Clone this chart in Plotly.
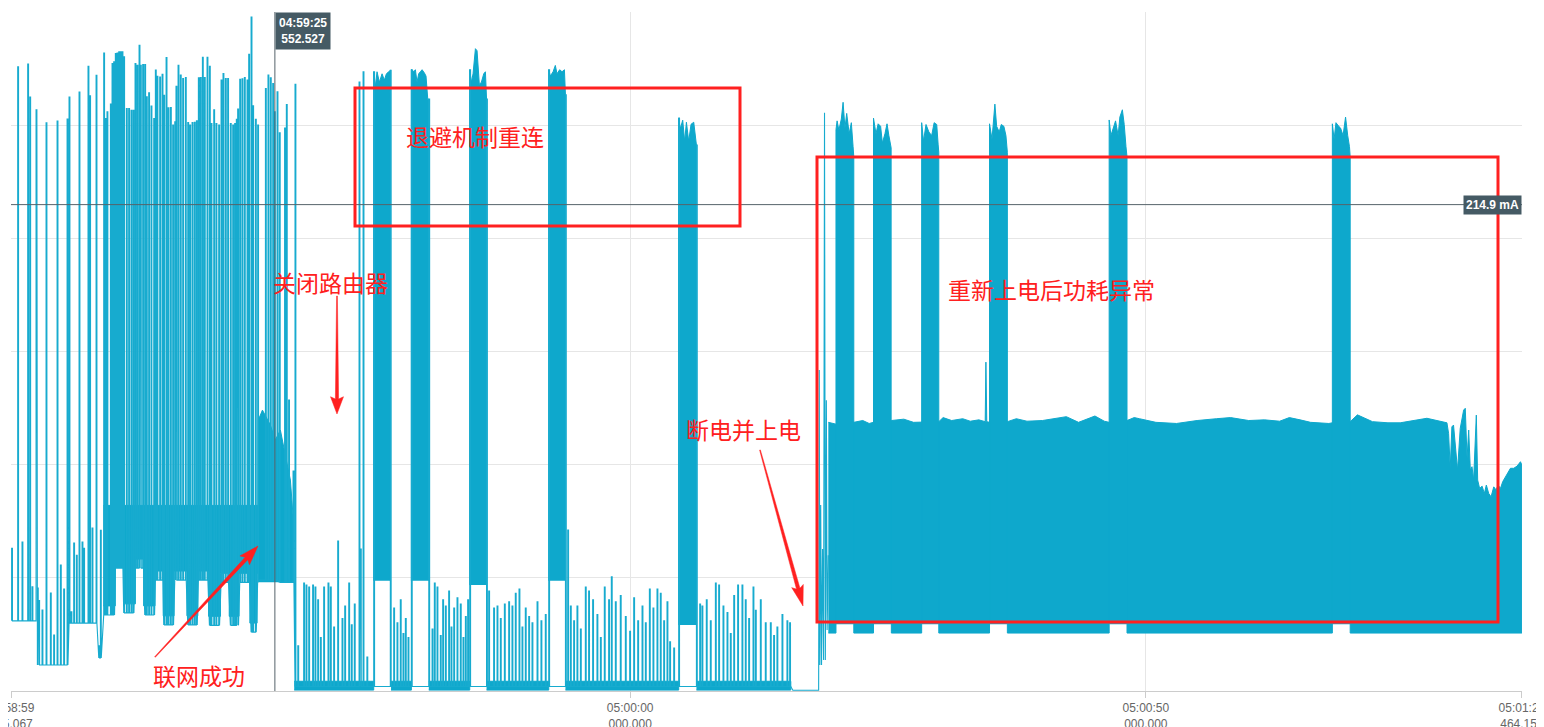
import plotly.graph_objects as go
from datetime import datetime, timedelta

# ---------------- data (time = seconds after 04:58:59.975067, current in mA) ----------------
DAY = "2024-01-01 "
START = "04:58:59.975067"
END = "05:01:26.464156"
tick_times = ["04:58:59.975067", "05:00:00.000000", "05:00:50.000000", "05:01:26.464156"]
tick_text = ["04:58:59<br>975.067", "05:00:00<br>000.000", "05:00:50<br>000.000", "05:01:26<br>464.156"]
cursor_time = "04:59:25.552527"
cursor_ma = 214.9

# individual spikes: time, peak, baseline
spike_t = [0.05, 0.64, 1.06, 1.61, 1.81, 2.03, 2.42, 2.55, 2.68, 3.00, 3.39, 3.81, 4.13, 4.46, 4.78, 5.10, 5.43,
           5.62, 5.81, 6.07, 6.33, 6.59, 6.88, 7.04, 7.46, 7.62, 7.85, 8.24, 8.50, 8.66,
           8.98, 9.14, 9.30, 9.63, 9.79, 9.95, 10.11, 10.27, 10.44, 10.60, 10.76, 10.92, 11.18, 11.40, 11.63,
           11.83, 12.02, 12.21, 12.41, 12.54, 12.76, 12.96, 13.12, 13.34, 13.57, 13.83, 13.99, 14.15, 14.41,
           14.64, 14.80, 15.03, 15.22, 15.45, 15.67, 15.87, 15.99, 16.19, 16.41, 16.64, 16.90, 17.13, 17.32,
           17.55, 17.77, 17.97, 18.16, 18.35, 18.55, 18.74, 19.00, 19.23, 19.39, 19.65, 19.87, 20.13, 20.36,
           20.55, 20.78, 21.00, 21.26, 21.49, 21.68, 21.84, 21.97, 22.17, 22.39, 22.62, 22.88, 23.04, 23.27,
           23.43, 23.69, 23.91,
           24.66, 24.91, 25.14, 25.37, 25.53, 25.79, 26.01, 26.52, 26.69, 26.91, 27.34, 27.53,
           27.80, 28.37, 28.60, 28.86, 29.24, 29.47, 29.73, 29.99, 30.31, 30.73, 30.96, 31.28, 31.67, 32.09,
           32.35, 32.74, 32.99, 33.28, 33.74, 33.87, 34.13, 34.50, 35.16, 36.77,
           37.10, 37.42, 37.74, 38.00, 38.23, 38.49, 38.81, 40.50,
           40.82, 41.04, 41.30, 41.62, 41.85, 42.11, 42.43, 42.66, 42.92, 43.24, 43.56, 43.82, 44.05, 44.27,
           44.47, 46.10,
           46.31, 46.79, 47.12, 47.44, 47.83, 48.25, 48.57, 48.89, 49.25, 49.54, 49.86, 50.19, 50.51, 51.00,
           51.38, 51.80, 52.13, 53.75,
           53.97, 54.23, 54.55, 54.87, 55.20, 55.68, 56.00, 56.39, 56.81, 57.14, 57.52, 57.94, 58.20, 58.59,
           59.07, 59.56, 59.98, 60.37, 60.76, 61.18, 61.50, 61.89, 62.24, 62.63, 62.95, 63.28, 63.60, 63.86,
           64.25, 64.73, 66.45,
           66.77, 66.99, 67.41, 67.80, 68.29, 68.61, 69.03, 69.42, 69.74, 70.07, 70.45, 70.87, 71.19, 71.52,
           71.94, 72.17, 72.65, 73.13, 73.62, 73.94, 74.26, 74.75, 75.23, 75.49]
spike_top = [63, 275.8, 65.8, 277.0, 262.4, 46.0, 256.8, 45.5, 40.0, 35.8, 251.0, 43.3, 24.7, 251.8, 55.7, 45.0, 252.7,
             262.4, 35.0, 65.4, 60.0, 264.6, 65.8, 63.0, 276.0, 263.0, 72.0, 272.0, 20.0, 71.0,
             281.9, 252.9, 255.9, 259.3, 277.2, 278.0, 281.6, 281.9, 282.4, 282.4, 282.4, 280.2, 257.3, 257.3, 256.6,
             256.6, 277.2, 276.5, 285.3, 276.5, 276.8, 276.8, 262.5, 264.3, 258.4, 252.9, 274.3, 271.6, 271.3,
             272.5, 263.2, 279.9, 257.7, 257.8, 250.0, 251.5, 267.2, 276.5, 272.1, 270.6, 271.0, 251.2, 250.0,
             251.2, 251.3, 251.9, 270.9, 271.0, 280.0, 271.0, 280.0, 276.0, 250.7, 256.8, 250.7, 250.0, 269.9,
             272.8, 270.6, 270.6, 250.7, 250.0, 250.7, 252.6, 257.1, 270.3, 270.5, 271.0, 269.9, 281.3, 297.8,
             258.6, 252.6, 250.0,
             266.2, 272.1, 270.9, 268.4, 255.9, 264.7, 246.6, 248.7, 259.1, 128.5, 97.2, 268.1,
             20.0, 47.7, 46.8, 45.9, 46.8, 45.9, 40.3, 23.6, 45.9, 47.7, 45.9, 28.3, 66.3, 32.0,
             37.5, 47.7, 29.2, 38.4, 269.0, 62.7, 273.6, 15.0, 273.6, 274.2,
             36.7, 30.1, 40.3, 25.4, 32.0, 23.6, 274.5, 261.5,
             27.4, 47.7, 45.9, 24.5, 40.3, 37.5, 44.2, 28.3, 36.7, 41.2, 38.4, 23.6, 32.9, 40.3,
             274.5, 261.5,
             44.2, 36.7, 37.5, 32.0, 38.4, 39.4, 37.5, 43.2, 45.0, 28.3, 36.7, 32.9, 30.1, 39.4,
             31.0, 33.8, 274.5, 263.4,
             71.1, 37.5, 31.0, 37.5, 27.4, 45.9, 44.2, 40.3, 33.8, 23.6, 45.9, 40.3, 50.5, 39.4,
             42.2, 32.9, 26.4, 41.2, 31.0, 37.5, 30.1, 45.0, 36.7, 45.0, 43.2, 31.0, 39.4, 21.7,
             19.0, 253.1, 241.2,
             38.4, 37.5, 40.3, 31.0, 47.7, 46.8, 37.5, 34.7, 25.4, 42.2, 46.8, 46.8, 40.3, 32.0,
             45.9, 35.7, 40.3, 30.1, 30.1, 24.5, 28.3, 33.8, 31.0, 30.1]
spike_base = [31, 31, 31, 31, 31, 31, 31, 11.5, 11.5, 11.5, 11.5, 11.5, 11.5, 11.5, 11.5, 11.5, 11.5,
              30, 30, 30, 30, 30, 30, 30, 30, 30, 30, 30, 14.6, 14.6,
              33.6, 33.6, 33.6, 33.6, 33.6, 33.6, 54.3, 54.3, 54.3, 54.3, 54.3, 34.5, 34.5, 34.5, 34.5,
              34.5, 54.3, 54.3, 54.3, 54.3, 54.3, 33.6, 33.6, 33.6, 33.6, 33.6, 49, 49, 49,
              49, 29.2, 29.2, 29.2, 29.2, 29.2, 49, 49, 49, 49, 49, 49, 29.2, 29.2,
              29.2, 29.2, 29.2, 49, 49, 49, 49, 49, 29, 29, 29, 29, 29, 48,
              48, 48, 48, 29, 29, 29, 29, 29, 48, 48, 48, 48, 48, 26,
              26, 26, 49,
              49, 49, 49, 49, 49, 49, 48, 48, 48, 48, 48, 2,
              2, 2, 2, 2, 2, 2, 2, 2, 2, 2, 2, 2, 2, 2,
              2, 2, 2, 2, 2, 2, 2, 2, 2, 2,
              2, 2, 2, 2, 2, 2, 2, 2,
              2, 2, 2, 2, 2, 2, 2, 2, 2, 2, 2, 2, 2, 2,
              2, 2,
              2, 2, 2, 2, 2, 2, 2, 2, 2, 2, 2, 2, 2, 2,
              2, 2, 2, 2,
              2, 2, 2, 2, 2, 2, 2, 2, 2, 2, 2, 2, 2, 2,
              2, 2, 2, 2, 2, 2, 2, 2, 2, 2, 2, 2, 2, 2,
              2, 2, 2,
              2, 2, 2, 2, 2, 2, 2, 2, 2, 2, 2, 2, 2, 2,
              2, 2, 2, 2, 2, 2, 2, 2, 2, 2]

# power cut and re-power
boot_t = [75.60, 75.80, 78.30, 78.36, 78.42, 78.50, 78.58, 78.68, 78.78, 78.87, 78.95, 79.05, 79.12, 79.24]
boot_v = [2.0, 0.3, 0.3, 141.8, 11.5, 82.2, 11.5, 62.7, 13.7, 255.5, 13.7, 128.5, 27.0, 60.0]

# dense connected phase groups (start, end, lower level)
grp_start = [8.95, 10.10, 10.90, 12.05, 12.85, 13.95, 14.75, 15.80, 17.05, 18.10, 19.15, 20.30, 21.15, 22.10, 23.15, 23.85]
grp_end = [10.10, 10.90, 12.05, 12.85, 13.95, 14.75, 15.80, 17.05, 18.10, 19.15, 20.30, 21.15, 22.10, 23.15, 23.85, 24.10]
grp_base = [33.6, 54.3, 34.5, 54.3, 33.6, 49.0, 29.2, 49.0, 29.2, 49.0, 29.0, 48.0, 29.0, 48.0, 26.0, 48.0]
grp_top = 82.0
tail_t = [23.97, 24.37, 24.76, 25.14, 25.62, 26.11, 26.59, 27.08, 27.37]
tail_v = [119.7, 124.1, 120.6, 117.5, 110.9, 115.3, 104.2, 93.2, 75.5]
tail_base = 48.0

# idle baseline noise after router off
noise_start = [27.45, 36.84, 40.50, 46.10, 53.75, 66.45]
noise_end = [35.16, 38.81, 44.47, 52.13, 64.73, 75.60]
noise_low, noise_high = 0.4, 4.3

# back-off reconnect bursts
d1_t = [35.16, 35.32, 35.48, 35.71, 35.97, 36.19, 36.39, 36.61, 36.77]
d1_v = [273.6, 267.1, 273.6, 269.0, 272.7, 269.9, 272.7, 273.6, 274.2]
d2_t = [38.81, 38.88, 39.04, 39.20, 39.36, 39.52, 39.68, 39.85, 40.07, 40.23, 40.40, 40.50]
d2_v = [274.5, 274.5, 273.6, 274.5, 269.0, 272.7, 273.6, 274.5, 273.1, 271.7, 261.5, 261.5]
d3_t = [44.47, 44.63, 44.79, 45.02, 45.18, 45.40, 45.60, 45.83, 45.99, 46.10]
d3_v = [274.5, 269.0, 272.7, 283.8, 282.9, 268.0, 269.0, 272.7, 273.6, 261.5]
d4_t = [52.13, 52.29, 52.55, 52.77, 52.93, 53.19, 53.42, 53.65, 53.75]
d4_v = [274.5, 271.7, 273.6, 276.4, 272.7, 274.5, 273.6, 274.5, 263.4]
d5_t = [64.73, 64.89, 65.12, 65.31, 65.48, 65.70, 65.93, 66.19, 66.35, 66.45]
d5_v = [253.1, 248.5, 252.2, 242.9, 251.3, 242.9, 250.4, 251.3, 242.9, 241.2]
d_floor = [48.7, 48.7, 46.8, 48.7, 29.2]

# abnormal phase after re-power
e_top_t = [79.24, 79.98, 81.71, 82.58, 83.20, 83.62, 85.35, 86.56, 87.50, 88.29, 89.95, 90.37, 91.20, 92.27,
           93.00, 93.83, 94.45, 94.52, 94.60, 94.87, 96.60, 97.47, 98.50, 100.00, 102.32, 103.50, 105.09,
           106.00, 106.47, 108.20, 108.90, 109.41, 111.00, 113.00, 115.00, 116.86, 118.24, 120.00, 121.53,
           123.00, 123.94, 124.98, 126.00, 127.77, 128.11, 129.84, 130.54, 132.00, 133.50, 134.69, 136.47,
           137.28, 139.22, 139.38, 139.54, 139.70, 139.86, 140.03, 140.25, 140.51, 140.68, 140.84, 141.00,
           141.17, 141.33, 141.49, 141.65, 141.81, 142.07, 142.20, 142.39, 142.63, 142.85, 143.04, 143.27,
           143.50, 143.76, 143.99, 144.18, 144.41, 144.63, 144.89, 145.12, 145.38, 145.70, 146.03, 146.35,
           146.49]
e_top_v = [118.7, 117.9, 118.7, 119.5, 118.2, 118.7, 119.5, 120.1, 118.7, 118.7, 119.0, 120.8, 119.5, 120.3,
           119.2, 119.8, 119.0, 145.3, 119.0, 118.7, 119.0, 120.3, 119.2, 119.5, 121.2, 118.7, 121.5,
           119.2, 118.7, 119.5, 120.8, 120.3, 118.7, 118.2, 119.5, 120.3, 120.8, 119.5, 119.8,
           119.2, 120.8, 119.8, 118.7, 118.2, 118.5, 119.0, 122.0, 119.0, 118.5, 118.5, 120.1,
           120.5, 118.5, 113.8, 98.4, 116.7, 117.5, 107.2, 97.6, 116.0, 119.7, 124.1, 124.9,
           102.8, 115.3, 97.6, 99.1, 93.2, 121.9, 93.2, 89.5, 90.5, 87.3, 91.0, 87.3,
           85.8, 90.2, 88.8, 91.0, 89.5, 92.5, 94.7, 96.2, 98.4, 98.4, 99.4, 101.3,
           99.8]
e_bot_t = [79.24, 79.98, 79.98, 81.71, 81.71, 83.62, 83.62, 85.35, 85.35, 88.29, 88.29, 89.95, 89.95, 94.87,
           94.87, 96.60, 96.60, 106.47, 106.47, 108.20, 108.20, 128.11, 128.11, 129.84, 129.84, 146.49]
e_bot_v = [25.6, 25.6, 29.7, 29.7, 25.6, 25.6, 29.7, 29.7, 25.6, 25.6, 29.7, 29.7, 25.6, 25.6,
           29.7, 29.7, 25.6, 25.6, 29.7, 29.7, 25.6, 25.6, 29.7, 29.7, 25.6, 25.6]
ea_t = [79.98, 80.09, 80.26, 80.50, 80.67, 80.85, 81.02, 81.26, 81.47, 81.64, 81.71]
ea_v = [248.0, 251.9, 247.8, 252.7, 260.1, 248.7, 255.2, 246.2, 251.1, 240.5, 236.0]
eb_t = [83.62, 83.86, 84.07, 84.31, 84.48, 84.73, 84.93, 85.11, 85.33]
eb_v = [253.1, 246.2, 250.6, 249.5, 242.1, 246.2, 250.6, 245.4, 240.0]
ec_t = [88.29, 88.47, 88.71, 88.99, 89.26, 89.50, 89.75, 89.89, 89.95]
ec_v = [251.1, 242.9, 250.3, 247.0, 245.4, 251.1, 250.3, 241.3, 238.0]
ed_t = [94.87, 95.11, 95.39, 95.56, 95.81, 96.01, 96.26, 96.46, 96.60]
ed_v = [250.6, 243.8, 259.3, 249.5, 247.0, 250.3, 249.5, 245.4, 238.0]
ee_t = [106.47, 106.64, 106.89, 107.09, 107.34, 107.51, 107.75, 107.93, 108.10, 108.20]
ee_v = [252.3, 245.4, 249.5, 251.9, 245.4, 253.6, 256.8, 250.3, 240.5, 236.0]
ef_t = [128.11, 128.28, 128.46, 128.73, 128.91, 129.15, 129.39, 129.60, 129.77, 129.84]
ef_v = [250.6, 243.8, 251.1, 249.5, 248.7, 245.4, 253.6, 245.4, 240.5, 236.0]
e_floor = 29.7

# annotations
label_backoff = "退避机制重连"
label_router = "关闭路由器"
label_cut = "断电并上电"
label_abnormal = "重新上电后功耗异常"
label_online = "联网成功"

# ---------------- figure ----------------
OFF = 8                      # default page margin around the plot div
W, H = 1536, 719
ML, MR, MT, MB = 3, 22, 4, 36
PW, PH = W - ML - MR, H - MT - MB
LINE = "#17abcf"
FILL = "#0ea8cc"
RED = "#ff2020"
SLATE = "#455a64"

t0 = datetime.fromisoformat(DAY + START)


def T(s):
    return t0 + timedelta(seconds=s)


def P(x, y):
    """screen pixel -> paper coordinates"""
    return (x - OFF - ML) / PW, (OFF + H - MB - y) / PH


fig = go.Figure()


def poly(ts, vs):
    fig.add_trace(go.Scatter(x=[T(s) for s in ts], y=vs, mode="lines", fill="toself",
                             fillcolor=FILL, line=dict(color=FILL, width=1), hoverinfo="skip"))


# connected-phase core (step bottom)
core_t, core_v = [], []
for a, b, base in zip(grp_start, grp_end, grp_base):
    core_t += [a, b]
    core_v += [base + 4, base + 4]
poly([grp_start[0]] + [grp_end[-1]] + core_t[::-1], [grp_top, grp_top] + core_v[::-1])
poly([tail_t[0]] + tail_t + [tail_t[-1]], [tail_base] + tail_v + [tail_base])

# baseline noise bands
for a, b in zip(noise_start, noise_end):
    poly([a, b, b, a], [noise_low, noise_low, noise_high, noise_high])

# reconnect bursts
for ts, vs, fl in zip([d1_t, d2_t, d3_t, d4_t, d5_t], [d1_v, d2_v, d3_v, d4_v, d5_v], d_floor):
    poly([ts[0]] + ts + [ts[-1]], [fl] + vs + [fl])

# abnormal phase body + bursts
poly(e_top_t + e_bot_t[::-1], e_top_v + e_bot_v[::-1])
for ts, vs in zip([ea_t, eb_t, ec_t, ed_t, ee_t, ef_t], [ea_v, eb_v, ec_v, ed_v, ee_v, ef_v]):
    poly([ts[0]] + ts + [ts[-1]], [e_floor] + vs + [e_floor])

# sparse waveform line
w = 0.08
lx, ly = [], []
for s, top, base in zip(spike_t, spike_top, spike_base):
    lx += [s, s, s + w, s + w]
    ly += [base, top, top, base]
lx += boot_t
ly += boot_v
fig.add_trace(go.Scatter(x=[T(s) for s in lx], y=ly, mode="lines",
                         line=dict(color=LINE, width=1.1), hoverinfo="skip"))

shapes = []
# crosshair
shapes.append(dict(type="line", xref="x", yref="paper", x0=DAY + cursor_time, x1=DAY + cursor_time,
                   y0=0, y1=1, line=dict(color="#56636a", width=1)))
shapes.append(dict(type="line", xref="paper", yref="y", x0=0, x1=1, y0=cursor_ma, y1=cursor_ma,
                   line=dict(color="#56636a", width=1)))

# red boxes
for (x0, y0, x1, y1) in [(355, 88, 740, 226), (817, 157, 1498, 622)]:
    a0, b0 = P(x0, y0)
    a1, b1 = P(x1, y1)
    shapes.append(dict(type="rect", xref="paper", yref="paper", x0=a0, y0=b1, x1=a1, y1=b0,
                       line=dict(color=RED, width=3), fillcolor="rgba(0,0,0,0)"))


# tapered red arrows
def arrow(tail, tip, hl, hw, sw):
    import math
    dx, dy = tip[0] - tail[0], tip[1] - tail[1]
    L = math.hypot(dx, dy)
    ux, uy = dx / L, dy / L
    nx, ny = -uy, ux
    neck = (tip[0] - ux * hl, tip[1] - uy * hl)
    barb = (tip[0] - ux * hl * 1.15, tip[1] - uy * hl * 1.15)
    pts = [(tail[0] + nx * 0.4, tail[1] + ny * 0.4),
           (neck[0] + nx * sw, neck[1] + ny * sw),
           (barb[0] + nx * hw, barb[1] + ny * hw),
           tip,
           (barb[0] - nx * hw, barb[1] - ny * hw),
           (neck[0] - nx * sw, neck[1] - ny * sw),
           (tail[0] - nx * 0.4, tail[1] - ny * 0.4)]
    path = "M " + " L ".join("%.5f,%.5f" % P(px, py) for px, py in pts) + " Z"
    return dict(type="path", xref="paper", yref="paper", path=path, fillcolor=RED,
                line=dict(color=RED, width=0.5))


shapes.append(arrow((337, 296), (337, 414), 15, 6.5, 1.6))
shapes.append(arrow((155, 657), (258, 546), 17, 6.5, 1.8))
shapes.append(arrow((760, 450), (803, 606), 18, 6, 1.8))

annotations = []
for txt, x, y in [(label_backoff, 404, 136), (label_router, 271, 282), (label_cut, 684, 429),
                  (label_abnormal, 946, 289), (label_online, 151, 675)]:
    ax, ay = P(x, y)
    annotations.append(dict(text=txt, xref="paper", yref="paper", x=ax, y=ay, xanchor="left",
                            yanchor="middle", showarrow=False,
                            font=dict(family="Noto Sans CJK SC", size=23, color=RED)))

annotations.append(dict(text="<b>04:59:25</b><br><b>552.527</b>", xref="x", yref="paper",
                        x=DAY + cursor_time, y=1, xanchor="left", yanchor="top", showarrow=False,
                        bgcolor=SLATE, borderpad=3, align="center",
                        font=dict(family="Liberation Sans, Arial", size=12, color="white")))
annotations.append(dict(text="<b>%.1f mA</b>" % cursor_ma, xref="paper", yref="y",
                        x=1, y=cursor_ma, xanchor="right", yanchor="middle", showarrow=False,
                        bgcolor=SLATE, borderpad=2,
                        font=dict(family="Liberation Sans, Arial", size=12, color="white")))

x_lo = T(-0.01)
x_hi = T((datetime.fromisoformat(DAY + END) - t0).total_seconds() + 0.01)

fig.update_layout(
    width=W, height=H, margin=dict(l=ML, r=MR, t=MT, b=MB, pad=0),
    plot_bgcolor="white", paper_bgcolor="white", showlegend=False,
    shapes=shapes, annotations=annotations, hovermode=False,
    xaxis=dict(type="date", range=[x_lo, x_hi], automargin=False, ticklabeloverflow="allow",
               tickvals=[DAY + s for s in tick_times], ticktext=tick_text,
               tickfont=dict(family="Liberation Sans, Arial", size=12, color="#666666"),
               showgrid=True, gridcolor="#e6e6e6", ticks="outside", ticklen=6, tickcolor="#cccccc",
               showline=True, linecolor="#cccccc", zeroline=False),
    yaxis=dict(range=[0, 300], tick0=0, dtick=50, showticklabels=False, gridcolor="#e6e6e6",
               zeroline=False, showline=False, ticks="", automargin=False),
)

fig.write_html("out.html")
